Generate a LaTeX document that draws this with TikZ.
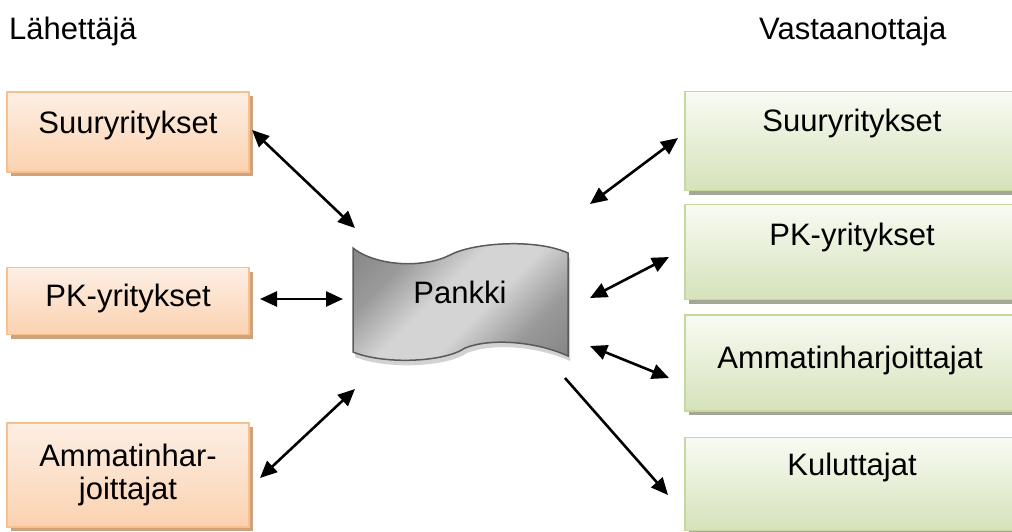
\documentclass[tikz,border=0pt]{standalone}
\usepackage{fontspec}
\setmainfont{Liberation Sans}
\usetikzlibrary{arrows.meta,calc,shadows}
\definecolor{orTop}{HTML}{FDEFE4}
\definecolor{orBot}{HTML}{FBD2B0}
\definecolor{orLine}{HTML}{F9C08F}
\definecolor{orShadow}{HTML}{CFA27C}
\definecolor{grTop}{HTML}{F8FBF3}
\definecolor{grBot}{HTML}{D5E2BA}
\definecolor{grLine}{HTML}{C6D8A0}
\definecolor{grShadow}{HTML}{A3A896}
\definecolor{pkDark}{HTML}{6C6C6C}
\definecolor{pkMid}{HTML}{9A9A9A}
\definecolor{pkLight}{HTML}{D4D4D4}
\definecolor{pkLine}{HTML}{5A5A5A}
\pgfdeclareverticalshading{pkshade}{100bp}{color(0bp)=(pkDark); color(30bp)=(pkMid); color(44bp)=(pkLight); color(56bp)=(pkLight); color(70bp)=(pkMid); color(100bp)=(pkDark)}
\begin{document}
\begin{tikzpicture}[x=1pt,y=-1pt,
  txt/.style={font=\fontsize{31}{34}\selectfont, text=black, inner sep=0pt, align=center},
  orbox/.style={draw=orLine, line width=1.5pt, top color=orTop, bottom color=orBot, inner sep=0pt,
    drop shadow={shadow xshift=3.5pt, shadow yshift=-4pt, fill=orShadow, opacity=1}},
  grbox/.style={draw=grLine, line width=1.5pt, top color=grTop, bottom color=grBot, inner sep=0pt,
    drop shadow={shadow xshift=3.5pt, shadow yshift=-4pt, fill=grShadow, opacity=1}},
  link/.style={line width=2.6pt, {Triangle[length=17pt,width=15pt]}-{Triangle[length=17pt,width=15pt]}},
  onelink/.style={line width=2.6pt, -{Triangle[length=17pt,width=15pt]}}
]
\useasboundingbox (0,0) rectangle (1012,531);
% titles
\node[txt, anchor=west] (tl) at (9,31) {Lähettäjä};
\node[txt, anchor=west] (tr) at (759,31) {Vastaanottaja};
% left boxes
\node[orbox, minimum width=242pt, minimum height=80pt] (ls) at (128,132) {};
\node[txt] (lst) at (128,125) {Suuryritykset};
\node[orbox, minimum width=242pt, minimum height=67pt] (lp) at (128,301) {};
\node[txt] (lpt) at (128,298) {PK-yritykset};
\node[orbox, minimum width=242pt, minimum height=104pt] (la) at (128,475) {};
\node[txt] (lat) at (128,475) {Ammatinhar-\\[-1pt]joittajat};
% right boxes
\node[grbox, minimum width=340pt, minimum height=99pt] (rs) at (855,141) {};
\node[txt] (rst) at (852,123) {Suuryritykset};
\node[grbox, minimum width=340pt, minimum height=95pt] (rp) at (855,252) {};
\node[txt] (rpt) at (852,237) {PK-yritykset};
\node[grbox, minimum width=340pt, minimum height=96pt] (ra) at (855,363) {};
\node[txt] (rat) at (850,360) {Ammatinharjoittajat};
\node[grbox, minimum width=340pt, minimum height=93pt] (rk) at (855,484) {};
\node[txt] (rkt) at (852,467) {Kuluttajat};
% Pankki (punched tape shape)
\def\tape{(353,248) .. controls (377,267) and (425,268) .. (450,255)
  .. controls (472,243) and (535,238) .. (568,253) -- (568,356)
  .. controls (535,341) and (490,338) .. (465,348)
  .. controls (445,362) and (385,365) .. (353,352) -- cycle}
\fill[gray!35, shift={(2,5)}] \tape;
\path[draw=pkLine, line width=1.5pt, shading=pkshade, shading angle=45] \tape;
\node[txt] (pk) at (460,292) {Pankki};
% connector end points
\coordinate (a1) at (252,130); \coordinate (b1) at (355,228);
\coordinate (a2) at (260,299); \coordinate (b2) at (343,299);
\coordinate (a3) at (260,478); \coordinate (b3) at (355,389);
\coordinate (a4) at (590,204); \coordinate (b4) at (678,138);
\coordinate (a5) at (590,298); \coordinate (b5) at (669,257);
\coordinate (a6) at (590,346); \coordinate (b6) at (669,378);
\coordinate (a7) at (565,378); \coordinate (b7) at (668,495);
\draw[link] (a1) -- (b1);
\draw[link] (a2) -- (b2);
\draw[link] (a3) -- (b3);
\draw[link] (a4) -- (b4);
\draw[link] (a5) -- (b5);
\draw[link] (a6) -- (b6);
\draw[onelink] (a7) -- (b7);
\end{tikzpicture}
\end{document}
